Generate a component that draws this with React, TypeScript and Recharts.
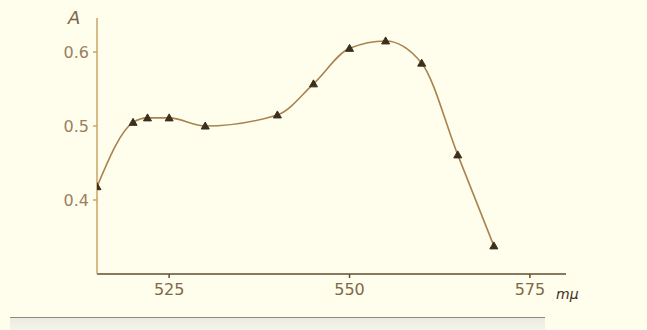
import { LineChart, Line, XAxis, YAxis } from "recharts";

const wavelengths = [515, 520, 522, 525, 530, 540, 545, 550, 555, 560, 565, 570];
const absorbance = [0.418, 0.505, 0.511, 0.511, 0.5, 0.515, 0.557, 0.605, 0.615, 0.585, 0.461, 0.338];
const xTicks = [525, 550, 575];
const yTicks = [0.4, 0.5, 0.6];

const data = wavelengths.map((w, i) => ({ w, a: absorbance[i] }));

const ink = "#3b2f1e";

const Triangle = (props: any) => {
  const { cx, cy } = props;
  if (cx == null || cy == null) return null;
  return (
    <path
      d={`M${cx - 4},${cy + 3} L${cx},${cy - 4} L${cx + 4},${cy + 3} Z`}
      fill={ink}
      stroke={ink}
      strokeWidth={1}
    />
  );
};

const font = "'DejaVu Sans', sans-serif";

const App = () => {
  return (
    <div
      style={{
        position: "absolute",
        left: 0,
        top: 0,
        width: 647,
        height: 330,
        background: "#fffdec",
        overflow: "hidden",
        fontFamily: font,
      }}
    >
      <LineChart
        width={647}
        height={330}
        data={data}
        margin={{ top: 18, right: 81, bottom: 26, left: 37 }}
      >
        <XAxis
          dataKey="w"
          type="number"
          domain={[515, 580]}
          ticks={xTicks}
          allowDataOverflow
          height={30}
          stroke="#5e4f33"
          strokeWidth={1.5}
          tickSize={4}
          tick={{ fill: "#7d6a48", fontSize: 16, fontFamily: font, dy: 4 }}
        />
        <YAxis
          dataKey="a"
          type="number"
          domain={[0.3, 0.646]}
          ticks={yTicks}
          allowDataOverflow
          width={60}
          stroke="#c9a466"
          strokeWidth={1.5}
          tickSize={4}
          tickFormatter={(v: number) => v.toFixed(1)}
          tick={{ fill: "#9a8060", fontSize: 16, fontFamily: font, dx: -2 }}
        />
        <Line
          type="monotone"
          dataKey="a"
          stroke="#a88350"
          strokeWidth={1.6}
          dot={<Triangle />}
          activeDot={false}
          isAnimationActive={false}
        />
      </LineChart>
      <div
        style={{
          position: "absolute",
          left: 68,
          top: 7,
          fontSize: 18,
          color: "#7a6548",
          fontStyle: "italic",
        }}
      >
        A
      </div>
      <div
        style={{
          position: "absolute",
          left: 556,
          top: 286,
          fontSize: 14,
          color: "#3b2f1e",
          fontStyle: "italic",
        }}
      >
        mμ
      </div>
      <div
        style={{
          position: "absolute",
          left: 10,
          top: 317,
          width: 535,
          height: 13,
          borderTop: "1.5px solid #8c8a80",
          background: "linear-gradient(#ecebe2, #f6f5ec)",
        }}
      />
    </div>
  );
};

export default App;
